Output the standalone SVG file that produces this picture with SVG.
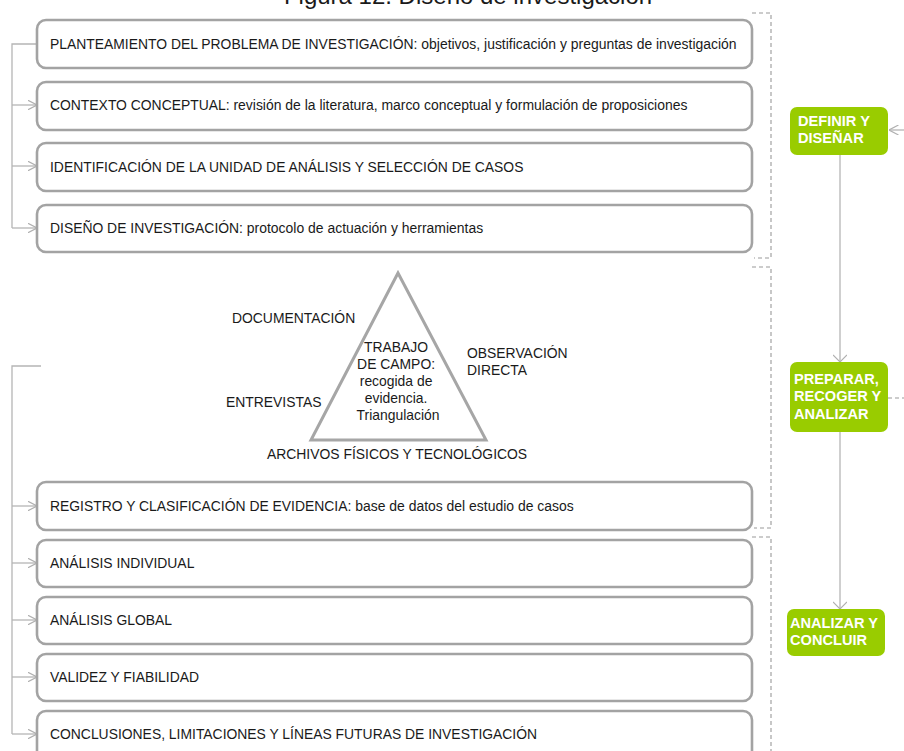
<svg xmlns="http://www.w3.org/2000/svg" width="904" height="751" viewBox="0 0 904 751">
  <defs>
    <marker id="chev" viewBox="0 0 10 10" refX="9.5" refY="5" markerWidth="10" markerHeight="10" markerUnits="userSpaceOnUse" orient="auto">
      <path d="M0,0 L9.5,5 L0,10" fill="none" stroke="#b0b0b0" stroke-width="1.2"/>
    </marker>
    <marker id="chevd" viewBox="0 0 14 14" refX="7" refY="13" markerWidth="14" markerHeight="14" markerUnits="userSpaceOnUse" orient="0">
      <path d="M0,6 L7,13 L14,6" fill="none" stroke="#b0b0b0" stroke-width="1.2"/>
    </marker>
    <style>
      .box { fill: #ffffff; stroke: #a3a3a3; stroke-width: 2.6; }
      .t { font-family: "Liberation Sans", Arial, sans-serif; font-size: 13.9px; fill: #1a1a1a; }
      .lc { font-size: 13.95px; }
      .g { fill: #99cc00; }
      .gt { font-family: "Liberation Sans", Arial, sans-serif; font-size: 14.6px; font-weight: bold; fill: #ffffff; }
      .link { fill: none; stroke: #b5b5b5; stroke-width: 1.3; }
      .dash { fill: none; stroke: #9a9a9a; stroke-width: 1.1; stroke-dasharray: 4 3; }
    </style>
  </defs>
  <rect width="904" height="751" fill="#ffffff"/>

  <!-- title -->
  <text x="468" y="4" text-anchor="middle" font-family="Liberation Sans, Arial, sans-serif" font-size="24" fill="#1a1a1a">Figura 12. Diseño de investigación</text>

  <!-- connectors -->
  <g id="connectors">
    <path class="link" d="M37,44 H12 V228"/>
    <path class="link" d="M12,105 H37" marker-end="url(#chev)"/>
    <path class="link" d="M12,166 H37" marker-end="url(#chev)"/>
    <path class="link" d="M12,228 H37" marker-end="url(#chev)"/>

    <path class="link" d="M41,366 H12 V734"/>
    <path class="link" d="M12,506 H37" marker-end="url(#chev)"/>
    <path class="link" d="M12,563 H37" marker-end="url(#chev)"/>
    <path class="link" d="M12,620 H37" marker-end="url(#chev)"/>
    <path class="link" d="M12,677 H37" marker-end="url(#chev)"/>
    <path class="link" d="M12,734 H37" marker-end="url(#chev)"/>

    <path class="dash" d="M752,13 H771 V258 H754"/>
    <path class="dash" d="M752,267 H771 V528 H754"/>
    <path class="dash" d="M752,537 H771 V751"/>

    <path class="link" d="M840,155 V362" marker-end="url(#chevd)"/>
    <path class="link" d="M840,432 V609" marker-end="url(#chevd)"/>
    <path class="link" d="M904,130 H889" marker-end="url(#chev)"/>
    <path class="dash" d="M888,398 H904"/>
  </g>

  <!-- step boxes -->
  <g id="planteamiento">
    <rect class="box" x="37" y="20" width="715" height="48" rx="9"/>
    <text class="t" x="50" y="49">PLANTEAMIENTO DEL PROBLEMA DE INVESTIGACIÓN: <tspan class="lc">objetivos, justificación y preguntas de investigación</tspan></text>
  </g>
  <g id="contexto">
    <rect class="box" x="37" y="82" width="715" height="48" rx="9"/>
    <text class="t" x="50" y="110">CONTEXTO CONCEPTUAL: <tspan class="lc">revisión de la literatura, marco conceptual y formulación de proposiciones</tspan></text>
  </g>
  <g id="unidad">
    <rect class="box" x="37" y="143" width="715" height="48" rx="9"/>
    <text class="t" x="50" y="172">IDENTIFICACIÓN DE LA UNIDAD DE ANÁLISIS Y SELECCIÓN DE CASOS</text>
  </g>
  <g id="diseno">
    <rect class="box" x="37" y="205" width="715" height="47" rx="9"/>
    <text class="t" x="50" y="233">DISEÑO DE INVESTIGACIÓN: <tspan class="lc">protocolo de actuación y herramientas</tspan></text>
  </g>

  <!-- fieldwork triangle -->
  <g id="trabajo-campo">
    <polygon points="398,273 311,440 486,440" fill="none" stroke="#a6a6a6" stroke-width="3" stroke-linejoin="miter"/>
    <text class="t" text-anchor="middle">
      <tspan x="398" y="352">TRABAJO</tspan>
      <tspan x="398" y="369">DE CAMPO:</tspan>
      <tspan x="398" y="386">recogida de</tspan>
      <tspan x="398" y="403">evidencia.</tspan>
      <tspan x="398" y="420">Triangulación</tspan>
    </text>
  </g>
  <g id="documentacion"><text class="t" x="232" y="323">DOCUMENTACIÓN</text></g>
  <g id="observacion"><text class="t"><tspan x="467" y="358">OBSERVACIÓN</tspan><tspan x="467" y="375">DIRECTA</tspan></text></g>
  <g id="entrevistas"><text class="t" x="226" y="407">ENTREVISTAS</text></g>
  <g id="archivos"><text class="t" x="267" y="459">ARCHIVOS FÍSICOS Y TECNOLÓGICOS</text></g>

  <g id="registro">
    <rect class="box" x="37" y="482" width="715" height="48" rx="9"/>
    <text class="t" x="50" y="511">REGISTRO Y CLASIFICACIÓN DE EVIDENCIA: <tspan class="lc">base de datos del estudio de casos</tspan></text>
  </g>
  <g id="analisis-individual">
    <rect class="box" x="37" y="540" width="715" height="47" rx="9"/>
    <text class="t" x="50" y="568">ANÁLISIS INDIVIDUAL</text>
  </g>
  <g id="analisis-global">
    <rect class="box" x="37" y="597" width="715" height="47" rx="9"/>
    <text class="t" x="50" y="625">ANÁLISIS GLOBAL</text>
  </g>
  <g id="validez">
    <rect class="box" x="37" y="654" width="715" height="47" rx="9"/>
    <text class="t" x="50" y="682">VALIDEZ Y FIABILIDAD</text>
  </g>
  <g id="conclusiones">
    <rect class="box" x="37" y="711" width="715" height="60" rx="9"/>
    <text class="t" x="50" y="739">CONCLUSIONES, LIMITACIONES Y LÍNEAS FUTURAS DE INVESTIGACIÓN</text>
  </g>

  <!-- phase labels -->
  <g id="definir">
    <rect class="g" x="790" y="107" width="98" height="48" rx="7"/>
    <text class="gt" font-size="13.5"><tspan x="798" y="126">DEFINIR Y</tspan><tspan x="798" y="143">DISEÑAR</tspan></text>
  </g>
  <g id="preparar">
    <rect class="g" x="790" y="362" width="98" height="70" rx="7"/>
    <text class="gt"><tspan x="794" y="384">PREPARAR,</tspan><tspan x="794" y="401">RECOGER Y</tspan><tspan x="794" y="419">ANALIZAR</tspan></text>
  </g>
  <g id="concluir">
    <rect class="g" x="787" y="609" width="98" height="47" rx="7"/>
    <text class="gt"><tspan x="790" y="628">ANALIZAR Y</tspan><tspan x="790" y="645">CONCLUIR</tspan></text>
  </g>
</svg>
